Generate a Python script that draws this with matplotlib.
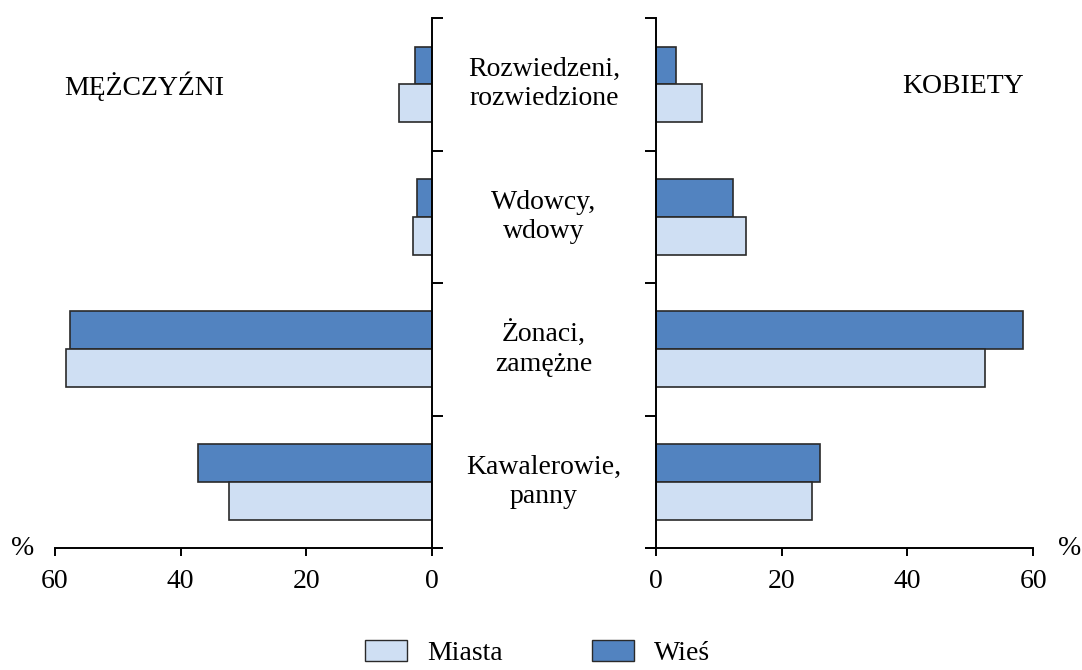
import matplotlib.pyplot as plt
from matplotlib.patches import Patch

plt.rcParams["font.family"] = ["Liberation Serif", "DejaVu Serif"]

# kategorie od dołu do góry
kategorie = ["Kawalerowie,\npanny", "Żonaci,\nzamężne", "Wdowcy,\nwdowy", "Rozwiedzeni,\nrozwiedzione"]
m_miasta = [32.3, 58.3, 3.0, 5.3]
m_wies = [37.3, 57.6, 2.4, 2.7]
k_miasta = [24.8, 52.4, 14.3, 7.3]
k_wies = [26.1, 58.4, 12.3, 3.2]
ticks_x = [0, 20, 40, 60]

C_MIASTA = "#cfdff3"
C_WIES = "#5283c0"
EDGE = "#2a2a2a"
FS = 20


def panel(ax, miasta, wies, side):
    y = [i + 0.5 for i in range(len(kategorie))]
    h = 0.285
    ax.barh([v + h / 2 for v in y], wies, height=h, color=C_WIES, edgecolor=EDGE, linewidth=1.2)
    ax.barh([v - h / 2 for v in y], miasta, height=h, color=C_MIASTA, edgecolor=EDGE, linewidth=1.2)
    ax.set_ylim(0, 4)
    ax.set_yticks([0, 1, 2, 3, 4])
    ax.set_yticklabels([])
    ax.set_xticks(ticks_x)
    ax.set_xticklabels([str(t) for t in ticks_x], fontsize=FS)
    ax.tick_params(axis="x", length=6, width=1.4, pad=9)
    ax.tick_params(axis="y", length=8, width=1.4, direction="out")
    for s in ["top", side]:
        ax.spines[s].set_visible(False)
    ax.spines["bottom"].set_linewidth(1.4)
    ax.spines["left" if side == "right" else "right"].set_linewidth(1.4)
    ax.set_xlim(0, 60)
    # oś x wystaje lekko za oś pionową
    ax.plot([0, -1.6], [0, 0], color="black", lw=1.4, clip_on=False)


fig = plt.figure(figsize=(10.82, 6.70), dpi=100)
axl = fig.add_axes([0.0508, 0.1821, 0.3485, 0.791])
axr = fig.add_axes([0.6063, 0.1821, 0.3485, 0.791])

panel(axl, m_miasta, m_wies, "left")
axl.invert_xaxis()
axl.yaxis.tick_right()
panel(axr, k_miasta, k_wies, "right")

for i, k in enumerate(kategorie):
    fig.text(0.5028, axl.transData.transform((0, i + 0.5))[1] / fig.bbox.height,
             k, ha="center", va="center", fontsize=FS, linespacing=1.2)

fig.text(0.059, 0.871, "MĘŻCZYŹNI", fontsize=FS, va="center", ha="left")
fig.text(0.946, 0.871, "KOBIETY", fontsize=FS, va="center", ha="right")
fig.text(0.010, 0.182, "%", fontsize=FS, va="center", ha="left")
fig.text(0.978, 0.182, "%", fontsize=FS, va="center", ha="left")

uchwyty = [Patch(facecolor=C_MIASTA, edgecolor=EDGE, label="Miasta"),
           Patch(facecolor=C_WIES, edgecolor=EDGE, label="Wieś")]
fig.legend(handles=uchwyty, loc="center", bbox_to_anchor=(0.497, 0.025), ncol=2,
           frameon=False, fontsize=FS, handlelength=1.5, handleheight=0.75,
           columnspacing=3.2, handletextpad=0.75)

fig.savefig("out.png", dpi=100)
